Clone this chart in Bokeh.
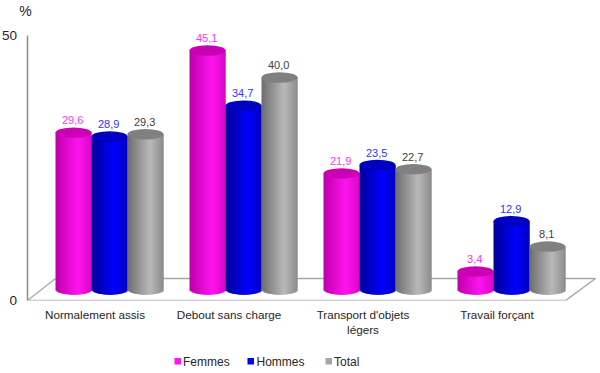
from bokeh.plotting import figure
from bokeh.embed import file_html
from bokeh.resources import INLINE
from bokeh.models import Range1d, FixedTicker, ColumnDataSource
from bokeh.core.properties import value
import numpy as np

categories = ["Normalement assis", "Debout sans charge", "Transport d'objets\nlégers", "Travail forçant"]
femmes = [29.6, 45.1, 21.9, 3.4]
hommes = [28.9, 34.7, 23.5, 12.9]
total = [29.3, 40.0, 22.7, 8.1]
series_names = ["Femmes", "Hommes", "Total"]
series_values = [femmes, hommes, total]
value_labels = [["29,6", "45,1", "21,9", "3,4"], ["28,9", "34,7", "23,5", "12,9"], ["29,3", "40,0", "22,7", "8,1"]]
y_ticks = [0, 50]

W, H = 600, 373
LEFT, TOP, BOTTOM = 27, 35, 300
PX_X = 134.0
PX_Y = (BOTTOM - TOP) / 50.0
TICK0 = 94.5
FONT = "Liberation Sans"
INK = "#262626"

def xpx(px):
    return (px - TICK0) / PX_X

def ypx(py):
    return (BOTTOM - py) / PX_Y

p = figure(width=W, height=H, output_backend="svg", toolbar_location=None,
           x_range=Range1d(xpx(LEFT), xpx(W)), y_range=Range1d(0, 50),
           min_border_left=LEFT, min_border_top=TOP, min_border_right=0,
           min_border_bottom=H - BOTTOM, outline_line_color=None, background_fill_color="white")
p.grid.visible = False

def free_text(x, y, text, size, align="left", color=INK):
    p.text([x], [y], text=[text], text_font=value(FONT), text_font_size=size, text_color=color,
           text_align=align, text_baseline="middle", level="overlay")

# axes
p.yaxis.ticker = FixedTicker(ticks=[])
p.yaxis.major_tick_out = 0
p.yaxis.major_tick_in = 0
p.yaxis.axis_line_color = "#8c8c8c"
p.yaxis.axis_line_width = 1.5
for t in y_ticks:
    free_text(xpx(16.5), t, str(t), "13.5px", "right")
p.xaxis.ticker = FixedTicker(ticks=list(range(len(categories))))
p.xaxis.major_label_overrides = {i: c for i, c in enumerate(categories)}
p.xaxis.major_tick_line_color = None
p.xaxis.minor_tick_line_color = None
p.xaxis.major_tick_out = 0
p.xaxis.major_tick_in = 0
p.xaxis.axis_line_color = None
p.xaxis.major_label_text_font = FONT
p.xaxis.major_label_text_font_size = "11.7px"
p.xaxis.major_label_text_color = INK
p.xaxis.major_label_standoff = 7

# floor
dx, dy = 28 / PX_X, 22 / PX_Y
x0 = xpx(LEFT)
x_end = xpx(565)
p.line([x0, x_end, x_end + (30 / PX_X), x0 + dx], [0, 0, dy, dy], line_color="#a6a6a6", line_width=1.5)
p.line([x0, x0 + dx], [0, dy], line_color="#a6a6a6", line_width=1.2)

# cylinders
CYL_W = 36 / PX_X
STEP = 36 / PX_X
CENTER = 14.5 / PX_X
BASE = 11 / PX_Y
ELL = 5.2 / PX_Y
N = 36
bright = [(255, 20, 240), (0, 0, 255), (185, 185, 185)]
dark = [(190, 0, 170), (0, 0, 150), (110, 110, 110)]
tops = ["#c900b4", "#0000c0", "#808080"]
label_colors = ["#ff33ff", "#3333ff", "#404040"]
legend_colors = ["#ff14f0", "#0000ff", "#a6a6a6"]
legend_square_px = [174, 247, 325]
legend_text_px = [182.5, 256, 333.5]
edges = np.linspace(-1, 1, N + 1)

for s, (name, vals) in enumerate(zip(series_names, series_values)):
    for i, v in enumerate(vals):
        cx = i + CENTER + (s - 1) * STEP
        strips = dict(left=[], right=[], top=[], bottom=[], color=[])
        for a, b in zip(edges[:-1], edges[1:]):
            m = (a + b) / 2
            t = max(0.0, 1 - abs(m - 0.25) / 1.25)
            c = [int(dark[s][k] + (bright[s][k] - dark[s][k]) * t) for k in range(3)]
            strips["left"].append(cx + a * CYL_W / 2)
            strips["right"].append(cx + b * CYL_W / 2 + (1.0 / PX_X if b < 1 else 0))
            strips["top"].append(BASE + v)
            strips["bottom"].append(BASE - ELL * np.sqrt(max(0, 1 - m * m)))
            strips["color"].append("#%02x%02x%02x" % tuple(c))
        p.quad(source=ColumnDataSource(strips), left="left", right="right", top="top", bottom="bottom",
               fill_color="color", line_color=None)
        p.ellipse([cx], [BASE + v], width=CYL_W, height=2 * ELL, fill_color=tops[s], line_color=None)
        p.text([cx - 0.8 / PX_X], [BASE + v + ELL + 0.6], text=[value_labels[s][i]], text_color=label_colors[s],
               text_font_size="11px", text_align="center", text_baseline="bottom", text_font=value(FONT),
               level="overlay")
    # legend entry
    lx = legend_square_px[s]
    p.quad(left=[xpx(lx)], right=[xpx(lx + 6.5)], top=[ypx(357.5)], bottom=[ypx(364)],
           fill_color=legend_colors[s], line_color=None, level="overlay")
    free_text(xpx(legend_text_px[s]), ypx(361), name, "12px")

free_text(xpx(25), ypx(10), "%", "14px", "center")

open("out.html", "w").write(file_html(p, INLINE))
